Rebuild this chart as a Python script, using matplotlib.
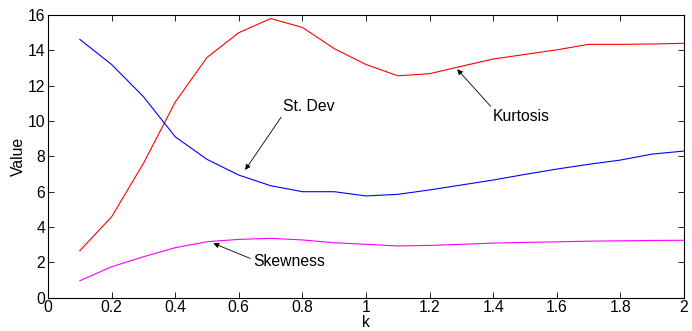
import matplotlib
matplotlib.use('Agg')
import matplotlib.pyplot as plt
import numpy as np

plt.rcParams['font.family'] = ['Liberation Sans', 'DejaVu Sans']

k = [0.1, 0.2, 0.3, 0.4, 0.5, 0.6, 0.7, 0.8, 0.9, 1.0,
     1.1, 1.2, 1.3, 1.4, 1.5, 1.6, 1.7, 1.8, 1.9, 2.0]
kurtosis = [2.66, 4.58, 7.6, 11.07, 13.6, 15.0, 15.8, 15.3, 14.1, 13.2,
            12.56, 12.68, 13.1, 13.51, 13.77, 14.03, 14.34, 14.34, 14.36, 14.4]
st_dev = [14.62, 13.2, 11.38, 9.11, 7.83, 6.94, 6.34, 6.0, 6.0, 5.76,
          5.85, 6.1, 6.38, 6.66, 6.98, 7.28, 7.55, 7.79, 8.13, 8.3]
skewness = [0.96, 1.75, 2.32, 2.83, 3.17, 3.30, 3.36, 3.27, 3.11, 3.02,
            2.93, 2.96, 3.02, 3.09, 3.13, 3.16, 3.2, 3.22, 3.24, 3.25]

FS = 11.3

fig = plt.figure(figsize=(6.92, 3.31), dpi=100)
ax = fig.add_axes([0.0694, 0.1006, 0.919, 0.854])

ax.plot(k, kurtosis, color='#ff0000', lw=0.8)
ax.plot(k, st_dev, color='#0000ff', lw=0.8)
ax.plot(k, skewness, color='#ff00ff', lw=0.8)

ax.set_xlim(0, 2)
ax.set_ylim(0, 16)
ax.set_xticks(np.arange(0, 2.01, 0.2))
ax.set_xticklabels(['0', '0.2', '0.4', '0.6', '0.8', '1', '1.2', '1.4', '1.6', '1.8', '2'])
ax.set_yticks(range(0, 17, 2))
ax.tick_params(direction='in', top=True, right=True, length=4, width=0.6,
               labelsize=FS, pad=2)
for s in ax.spines.values():
    s.set_linewidth(0.8)

ax.set_xlabel('k', fontsize=FS, labelpad=-0.5)
ax.set_ylabel('Value', fontsize=FS, labelpad=1.5)

arrow = dict(arrowstyle='-|>', color='black', lw=0.6, mutation_scale=8, shrinkA=0, shrinkB=0)
ax.annotate('St. Dev', xy=(0.62, 7.23), xytext=(0.739, 10.8), fontsize=FS,
            va='center', ha='left', arrowprops=dict(arrow, relpos=(0, 0)))
ax.annotate('Kurtosis', xy=(1.287, 12.93), xytext=(1.40, 10.25), fontsize=FS,
            va='center', ha='left', arrowprops=dict(arrow, relpos=(0, 1)))
ax.annotate('Skewness', xy=(0.52, 3.08), xytext=(0.645, 2.07), fontsize=FS,
            va='center', ha='left', arrowprops=dict(arrow, relpos=(0, 0.6)))

fig.savefig('out.png', dpi=100)
